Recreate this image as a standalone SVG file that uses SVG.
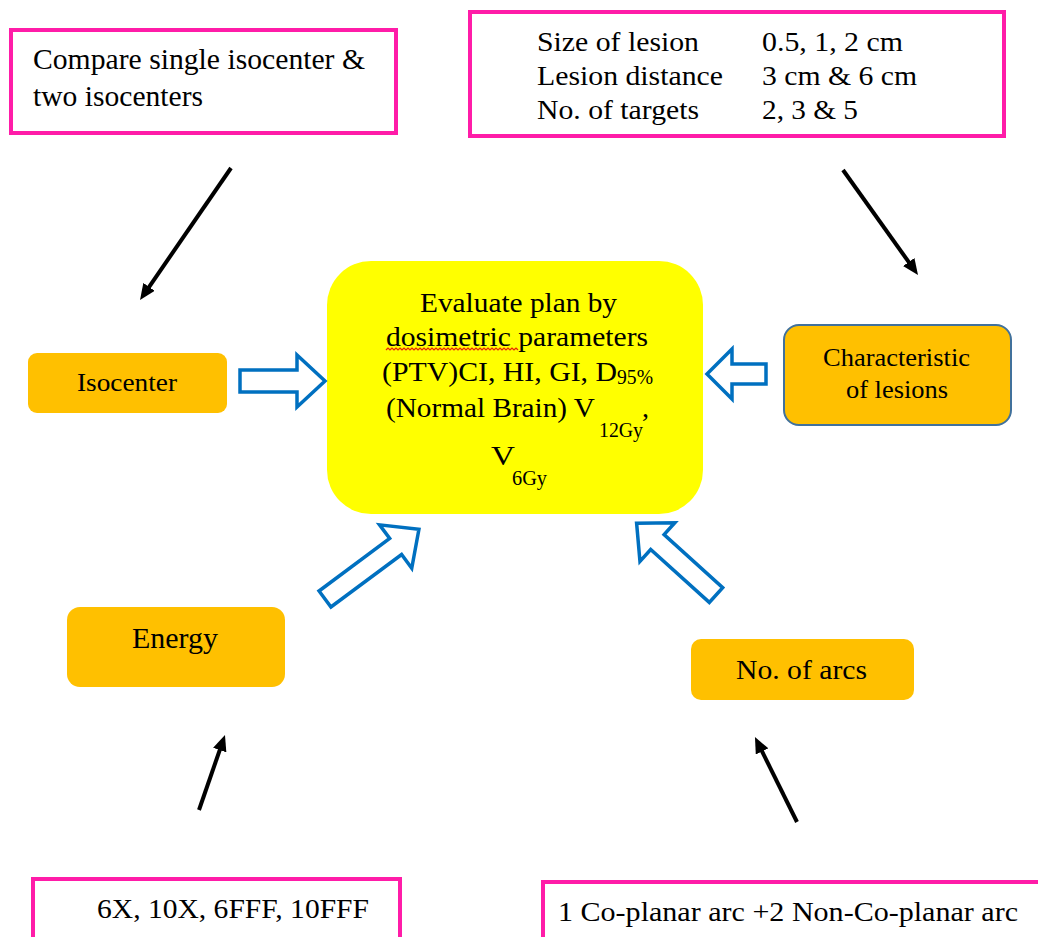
<svg xmlns="http://www.w3.org/2000/svg" width="1038" height="937" viewBox="0 0 1038 937">
<style>
  text { font-family: "Liberation Serif", "Times New Roman", serif; fill: #000; }
  .pink { fill: #fff; stroke: #FF1CA8; stroke-width: 4; }
  .orange { fill: #FFC000; }
  .hollow { fill: #fff; stroke: #0070C0; stroke-width: 3.5; stroke-linejoin: miter; }
  .conn { stroke: #000; stroke-width: 4; fill: none; marker-end: url(#ah); }
</style>
<defs>
  <marker id="ah" markerUnits="userSpaceOnUse" viewBox="0 0 16 14" refX="6" refY="7" markerWidth="16" markerHeight="14" orient="auto">
    <path d="M0,0 L16,7 L0,14 z" fill="#000"/>
  </marker>
</defs>
<rect width="1038" height="937" fill="#fff"/>

<g id="compare-isocenter">
  <rect class="pink" x="11" y="30" width="385" height="103"/>
  <text x="33" y="69" font-size="29" textLength="332" lengthAdjust="spacingAndGlyphs">Compare single isocenter &amp;</text>
  <text x="33" y="106" font-size="29" textLength="170" lengthAdjust="spacingAndGlyphs">two isocenters</text>
</g>

<g id="lesion-table">
  <rect class="pink" x="470" y="12" width="534" height="124"/>
  <text x="537" y="51" font-size="28" textLength="162" lengthAdjust="spacingAndGlyphs">Size of lesion</text>
  <text x="762" y="51" font-size="28" textLength="141" lengthAdjust="spacingAndGlyphs">0.5, 1, 2 cm</text>
  <text x="537" y="85" font-size="28" textLength="186" lengthAdjust="spacingAndGlyphs">Lesion distance</text>
  <text x="762" y="85" font-size="28" textLength="155" lengthAdjust="spacingAndGlyphs">3 cm &amp; 6 cm</text>
  <text x="537" y="119" font-size="28" textLength="162" lengthAdjust="spacingAndGlyphs">No. of targets</text>
  <text x="762" y="119" font-size="28" textLength="96" lengthAdjust="spacingAndGlyphs">2, 3 &amp; 5</text>
</g>

<g id="isocenter">
  <rect class="orange" x="28" y="353" width="199" height="60" rx="9"/>
  <text x="77" y="391" font-size="26" textLength="100" lengthAdjust="spacingAndGlyphs">Isocenter</text>
</g>

<g id="characteristic">
  <rect class="orange" x="784" y="325" width="227" height="100" rx="15" stroke="#41719C" stroke-width="2"/>
  <text x="823" y="366" font-size="25" textLength="147" lengthAdjust="spacingAndGlyphs">Characteristic</text>
  <text x="846" y="398" font-size="25" textLength="102" lengthAdjust="spacingAndGlyphs">of lesions</text>
</g>

<g id="evaluate">
  <rect x="327" y="261" width="376" height="253" rx="44" fill="#FFFF00"/>
  <text x="420" y="312" font-size="28" textLength="197" lengthAdjust="spacingAndGlyphs">Evaluate plan by</text>
  <text x="386" y="346" font-size="28" textLength="262" lengthAdjust="spacingAndGlyphs">dosimetric parameters</text>
  <path d="M386,350 l2,-2 l2,2 l2,-2 l2,2 l2,-2 l2,2 l2,-2 l2,2 l2,-2 l2,2 l2,-2 l2,2 l2,-2 l2,2 l2,-2 l2,2 l2,-2 l2,2 l2,-2 l2,2 l2,-2 l2,2 l2,-2 l2,2 l2,-2 l2,2 l2,-2 l2,2 l2,-2 l2,2 l2,-2 l2,2 l2,-2 l2,2 l2,-2 l2,2 l2,-2 l2,2 l2,-2 l2,2 l2,-2 l2,2 l2,-2 l2,2 l2,-2 l2,2 l2,-2 l2,2 l2,-2 l2,2 l2,-2 l2,2 l2,-2 l2,2 l2,-2 l2,2 l2,-2 l2,2 l2,-2 l2,2 l2,-2 l2,2 l2,-2 l2,2 l2,-2 l2,2" fill="none" stroke="#E8200A" stroke-width="1.2"/>
  <text x="382" y="381" font-size="28" textLength="235" lengthAdjust="spacingAndGlyphs">(PTV)CI, HI, GI, D</text>
  <text x="617" y="384" font-size="20" textLength="36" lengthAdjust="spacingAndGlyphs">95%</text>
  <text x="386" y="417" font-size="28" textLength="209" lengthAdjust="spacingAndGlyphs">(Normal Brain) V</text>
  <text x="599" y="437" font-size="20" textLength="44" lengthAdjust="spacingAndGlyphs">12Gy</text>
  <text x="642" y="417" font-size="28">,</text>
  <text x="491" y="465" font-size="28" textLength="24" lengthAdjust="spacingAndGlyphs">V</text>
  <text x="512" y="485" font-size="20" textLength="35" lengthAdjust="spacingAndGlyphs">6Gy</text>
</g>

<g id="energy">
  <rect class="orange" x="67" y="607" width="218" height="80" rx="13"/>
  <text x="132" y="648" font-size="29" textLength="86" lengthAdjust="spacingAndGlyphs">Energy</text>
</g>

<g id="arcs">
  <rect class="orange" x="691" y="639" width="223" height="61" rx="10"/>
  <text x="736" y="679" font-size="28" textLength="131" lengthAdjust="spacingAndGlyphs">No. of arcs</text>
</g>

<g id="energy-values">
  <rect class="pink" x="33" y="879" width="367" height="80"/>
  <text x="97" y="918" font-size="27" textLength="272" lengthAdjust="spacingAndGlyphs">6X, 10X, 6FFF, 10FFF</text>
</g>

<g id="arc-values">
  <rect class="pink" x="543" y="882" width="520" height="80"/>
  <text x="558" y="921" font-size="27" textLength="460" lengthAdjust="spacingAndGlyphs">1 Co-planar arc +2 Non-Co-planar arc</text>
</g>

<g id="connectors">
  <line class="conn" x1="231" y1="168" x2="145.7" y2="291.8"/>
  <line class="conn" x1="843" y1="170" x2="912.2" y2="266.9"/>
  <line class="conn" x1="199" y1="810" x2="221.7" y2="744.4"/>
  <line class="conn" x1="797" y1="822" x2="759.4" y2="746"/>
  <polygon class="hollow" points="240,370 297,370 297,355 325,381 297,407 297,392 240,392"/>
  <polygon class="hollow" points="766,364 732,364 732,349 707,374 732,399 732,384 766,384"/>
  <polygon class="hollow" transform="translate(325,599) rotate(-36.6)" points="0,-10 88,-10 88,-27 117,0 88,27 88,10 0,10"/>
  <polygon class="hollow" transform="translate(716,595) rotate(-137.9)" points="0,-10 79,-10 79,-26 107,0 79,26 79,10 0,10"/>
</g>
</svg>
